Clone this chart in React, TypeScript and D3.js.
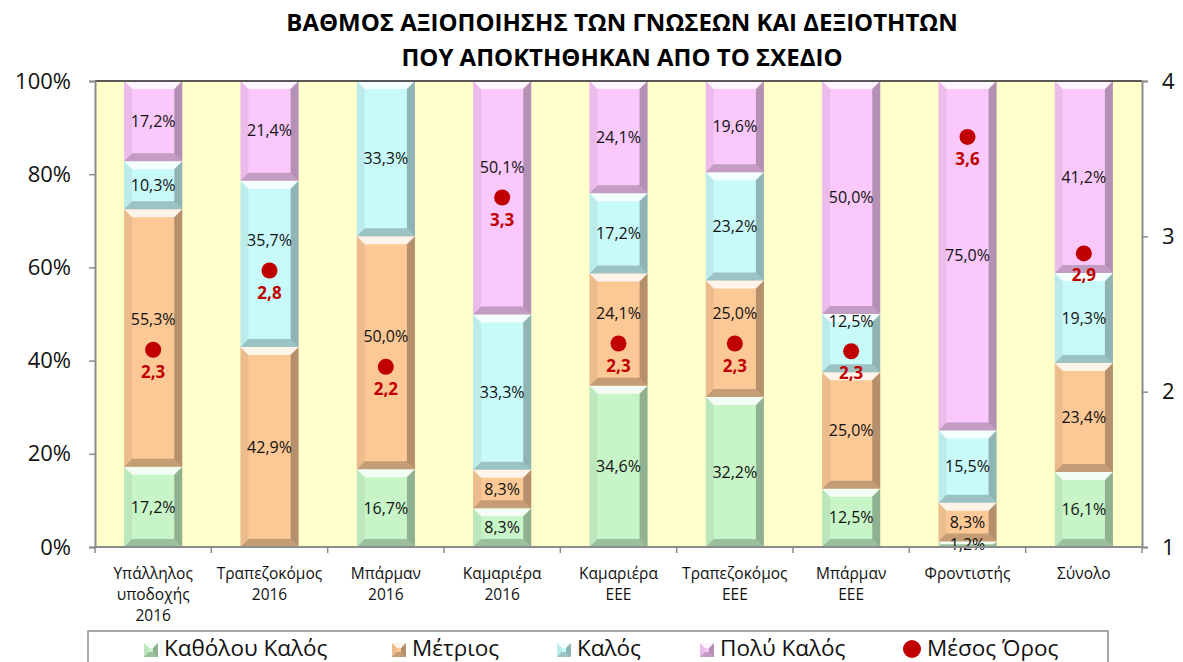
import React, { useRef, useEffect } from "react";
import * as d3 from "d3";

const categories = [
  ["Υπάλληλος", "υποδοχής", "2016"],
  ["Τραπεζοκόμος", "2016"],
  ["Μπάρμαν", "2016"],
  ["Καμαριέρα", "2016"],
  ["Καμαριέρα", "ΕΕΕ"],
  ["Τραπεζοκόμος", "ΕΕΕ"],
  ["Μπάρμαν", "ΕΕΕ"],
  ["Φροντιστής"],
  ["Σύνολο"],
];

const seriesNames = ["Καθόλου Καλός", "Μέτριος", "Καλός", "Πολύ Καλός"];
const seriesColors = ["#c8f5c8", "#fcc896", "#c8fafa", "#fac8fa"];

const notGood = [17.2, 0, 16.7, 8.3, 34.6, 32.2, 12.5, 1.2, 16.1];
const medium = [55.3, 42.9, 50.0, 8.3, 24.1, 25.0, 25.0, 8.3, 23.4];
const good = [10.3, 35.7, 33.3, 33.3, 17.2, 23.2, 12.5, 15.5, 19.3];
const veryGood = [17.2, 21.4, 0, 50.1, 24.1, 19.6, 50.0, 75.0, 41.2];
const meanScore = [2.27, 2.78, 2.16, 3.25, 2.31, 2.31, 2.26, 3.64, 2.89];

const leftTicks = [0, 20, 40, 60, 80, 100];
const rightTicks = [1, 2, 3, 4];

const titleLines = [
  "ΒΑΘΜΟΣ ΑΞΙΟΠΟΙΗΣΗΣ ΤΩΝ ΓΝΩΣΕΩΝ ΚΑΙ ΔΕΞΙΟΤΗΤΩΝ",
  "ΠΟΥ ΑΠΟΚΤΗΘΗΚΑΝ ΑΠΟ ΤΟ ΣΧΕΔΙΟ",
];

const FONT = "'Open Sans', 'Noto Sans', sans-serif";

const App = () => {
  const ref = useRef<SVGSVGElement>(null);

  useEffect(() => {
    const W = 1183;
    const H = 662;
    const m = { top: 81, bottom: 115, left: 95, right: 41 };
    const svg = d3.select(ref.current);
    svg.selectAll("*").remove();

    const x = d3
      .scaleBand()
      .domain(categories.map((_, i) => String(i)))
      .range([m.left, W - m.right])
      .paddingInner(0.5)
      .paddingOuter(0.25);
    const y = d3.scaleLinear().domain([0, 100]).range([H - m.bottom, m.top]);
    const y2 = d3.scaleLinear().domain([1, 4]).range([H - m.bottom, m.top]);

    // title
    titleLines.forEach((t, i) => {
      svg
        .append("text")
        .attr("x", 622)
        .attr("y", 31 + i * 35)
        .attr("text-anchor", "middle")
        .attr("font-family", FONT)
        .attr("font-weight", "bold")
        .attr("font-size", 24)
        .text(t);
    });

    // plot background
    svg
      .append("rect")
      .attr("x", m.left)
      .attr("y", m.top)
      .attr("width", W - m.right - m.left)
      .attr("height", H - m.bottom - m.top)
      .attr("fill", "#ffffcc");

    const series = [notGood, medium, good, veryGood];
    const rows = categories.map((_, i) => ({
      i,
      a: notGood[i],
      b: medium[i],
      c: good[i],
      d: veryGood[i],
    }));
    const stacked = d3.stack<any>().keys(["a", "b", "c", "d"])(rows);

    // excel-like bevelled block
    const bevel = (g: any, x0: number, y0: number, w: number, h: number, color: string, size = 8) => {
      if (h <= 0) return;
      const b = Math.min(size, h / 2, w / 2);
      g.append("rect").attr("x", x0).attr("y", y0).attr("width", w).attr("height", h).attr("fill", color);
      const poly = (pts: number[][], fill: string, op: number) =>
        g
          .append("polygon")
          .attr("points", pts.map((p) => p.join(",")).join(" "))
          .attr("fill", fill)
          .attr("fill-opacity", op);
      poly([[x0, y0], [x0 + w, y0], [x0 + w - b, y0 + b], [x0 + b, y0 + b]], "#ffffff", 0.8);
      poly([[x0, y0], [x0 + b, y0 + b], [x0 + b, y0 + h - b], [x0, y0 + h]], "#000000", 0.06);
      poly([[x0 + w, y0], [x0 + w - b, y0 + b], [x0 + w - b, y0 + h - b], [x0 + w, y0 + h]], "#000000", 0.28);
      poly([[x0, y0 + h], [x0 + b, y0 + h - b], [x0 + w - b, y0 + h - b], [x0 + w, y0 + h]], "#000000", 0.22);
    };

    stacked.forEach((layer, si) => {
      const g = svg.append("g");
      layer.forEach((d, ci) => {
        const x0 = x(String(ci))!;
        bevel(g, x0, y(d[1]), x.bandwidth(), y(d[0]) - y(d[1]), seriesColors[si]);
      });
    });

    // data labels (nudged up when they would sit on the mean marker)
    stacked.forEach((layer, si) => {
      layer.forEach((d, ci) => {
        const v = series[si][ci];
        if (!v) return;
        let ly = (y(d[0]) + y(d[1])) / 2;
        const my = y2(meanScore[ci]);
        if (Math.abs(ly - my) < 30) ly = my - 30;
        svg
          .append("text")
          .attr("x", x(String(ci))! + x.bandwidth() / 2)
          .attr("y", ly)
          .attr("dy", "0.35em")
          .attr("text-anchor", "middle")
          .attr("font-family", FONT)
          .attr("font-size", 16)
          .attr("fill", "#111")
          .text(v.toFixed(1).replace(".", ",") + "%");
      });
    });

    // axes
    const axisColor = "#8c8c8c";
    svg
      .append("line")
      .attr("x1", m.left)
      .attr("x2", W - m.right)
      .attr("y1", m.top)
      .attr("y2", m.top)
      .attr("stroke", "#222")
      .attr("stroke-width", 1.5);
    const left = svg.append("g").attr("transform", `translate(${m.left},0)`).call(
      d3.axisLeft(y).tickValues(leftTicks).tickSize(6).tickFormat((d) => `${d}%`)
    );
    const right = svg.append("g").attr("transform", `translate(${W - m.right},0)`).call(
      d3.axisRight(y2).tickValues(rightTicks).tickSize(6).tickFormat((d) => String(d))
    );
    [left, right].forEach((a) => {
      a.select(".domain").attr("stroke", axisColor).attr("stroke-width", 2);
      a.selectAll(".tick line").attr("stroke", axisColor).attr("stroke-width", 1.5);
      a.selectAll("text").attr("font-family", FONT).attr("font-size", 22).attr("fill", "#111");
    });
    left.selectAll("text").attr("x", -24);
    right.selectAll("text").attr("x", 20);

    const bottomY = H - m.bottom;
    svg
      .append("line")
      .attr("x1", m.left)
      .attr("x2", W - m.right)
      .attr("y1", bottomY)
      .attr("y2", bottomY)
      .attr("stroke", axisColor)
      .attr("stroke-width", 2);
    d3.range(categories.length + 1).forEach((k) => {
      const xx = m.left + ((W - m.right - m.left) * k) / categories.length;
      svg
        .append("line")
        .attr("x1", xx)
        .attr("x2", xx)
        .attr("y1", bottomY)
        .attr("y2", bottomY + 6)
        .attr("stroke", axisColor)
        .attr("stroke-width", 1.5);
    });

    categories.forEach((lines, ci) => {
      lines.forEach((ln, li) => {
        svg
          .append("text")
          .attr("x", x(String(ci))! + x.bandwidth() / 2)
          .attr("y", 579 + li * 21)
          .attr("text-anchor", "middle")
          .attr("font-family", FONT)
          .attr("font-size", 15.5)
          .attr("fill", "#111")
          .text(ln);
      });
    });

    // mean points
    meanScore.forEach((v, ci) => {
      const cx = x(String(ci))! + x.bandwidth() / 2;
      svg.append("circle").attr("cx", cx).attr("cy", y2(v)).attr("r", 8).attr("fill", "#c00000");
      svg
        .append("text")
        .attr("x", cx)
        .attr("y", y2(v) + 28)
        .attr("text-anchor", "middle")
        .attr("font-family", FONT)
        .attr("font-weight", "bold")
        .attr("font-size", 17)
        .attr("fill", "#c00000")
        .text(v.toFixed(1).replace(".", ","));
    });

    // legend
    svg
      .append("rect")
      .attr("x", 88)
      .attr("y", 631)
      .attr("width", 1020)
      .attr("height", 50)
      .attr("fill", "#fff")
      .attr("stroke", "#8c8c8c")
      .attr("stroke-width", 1.5);
    const legendX = [144, 392, 557, 700];
    seriesNames.forEach((name, i) => {
      const lg = svg.append("g");
      bevel(lg, legendX[i], 643, 14, 14, seriesColors[i], 5);
      lg.append("text")
        .attr("x", legendX[i] + 20)
        .attr("y", 656)
        .attr("font-family", FONT)
        .attr("font-size", 22.5)
        .attr("fill", "#111")
        .text(name);
    });
    svg.append("circle").attr("cx", 912).attr("cy", 649).attr("r", 9).attr("fill", "#c00000");
    svg
      .append("text")
      .attr("x", 927)
      .attr("y", 656)
      .attr("font-family", FONT)
      .attr("font-size", 22.5)
      .attr("fill", "#111")
      .text("Μέσος Όρος");
  }, []);

  return <svg ref={ref} width={1183} height={662} style={{ position: "absolute", left: 0, top: 0 }} />;
};

export default App;
